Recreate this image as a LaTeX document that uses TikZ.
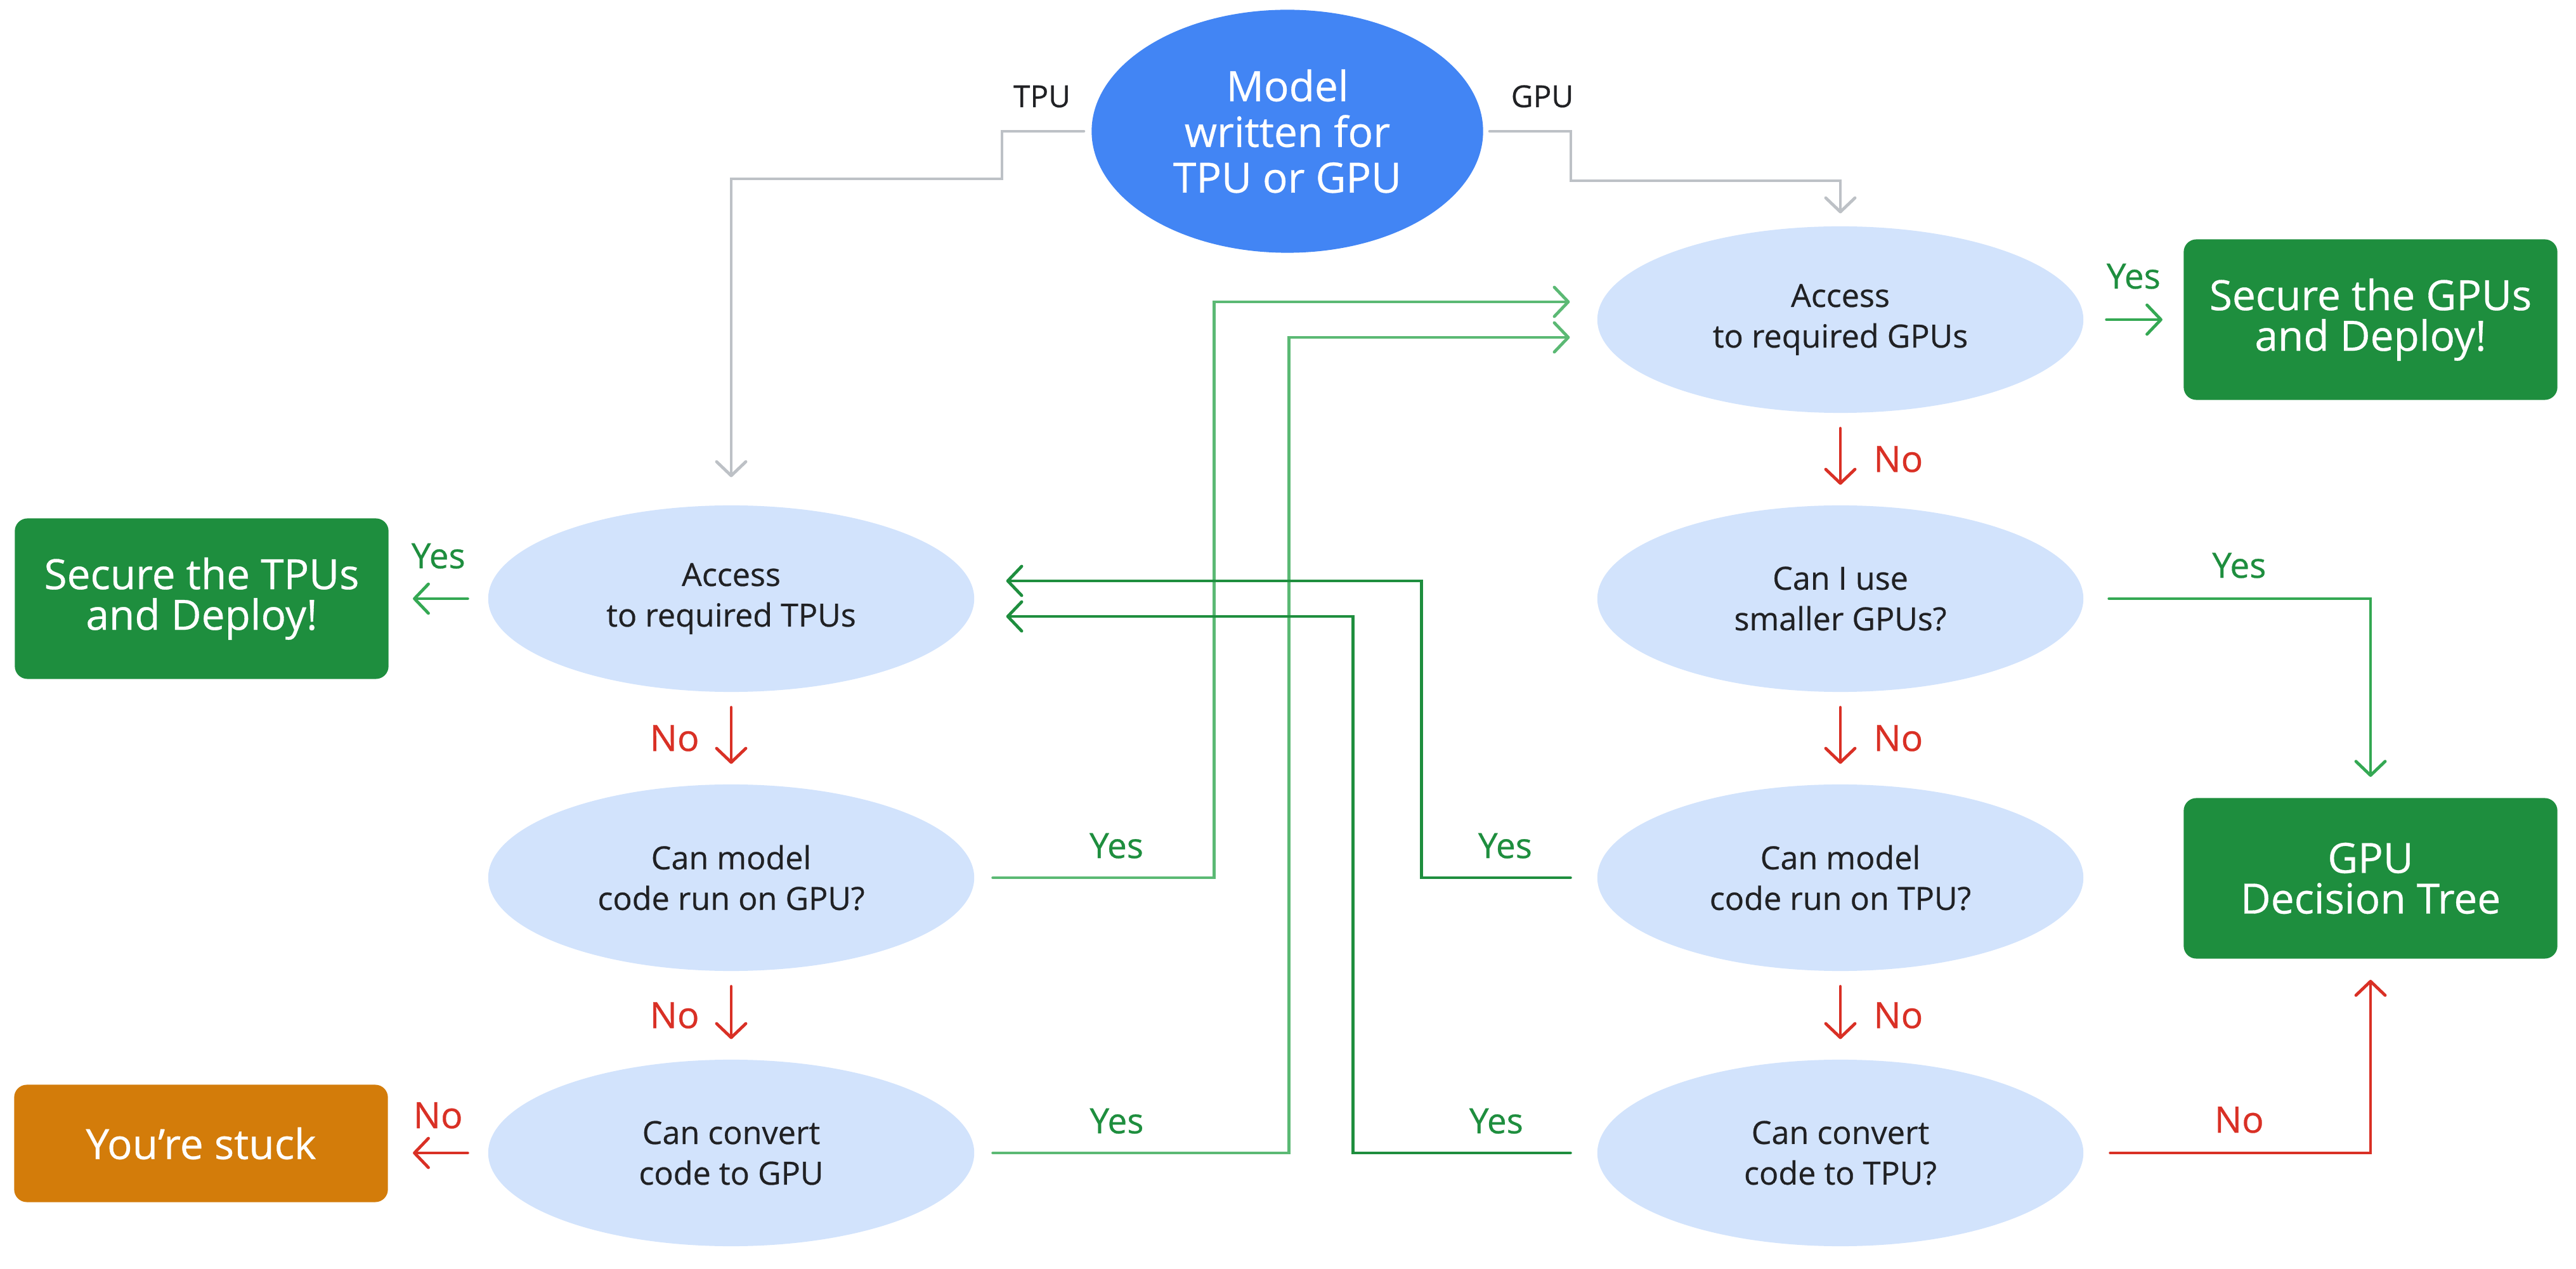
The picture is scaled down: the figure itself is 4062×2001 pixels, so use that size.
\documentclass[tikz,border=0pt]{standalone}
\usepackage{fontspec}
\setmainfont{Open Sans}[FakeBold=0.5]
\usetikzlibrary{arrows.meta,shapes.geometric}

\definecolor{ink}{HTML}{202124}
\definecolor{qfill}{HTML}{D2E3FC}
\definecolor{topblue}{HTML}{4285F4}
\definecolor{okgreen}{HTML}{1E8E3E}
\definecolor{yesgreen}{HTML}{34A853}
\definecolor{lightyes}{HTML}{5BB974}
\definecolor{nored}{HTML}{D93025}
\definecolor{wire}{HTML}{BDC1C6}
\definecolor{stuckorange}{HTML}{D37C0A}

\begin{document}
\begin{tikzpicture}[x=0.01cm,y=-0.01cm,
  >={Straight Barb[length=0.22cm,width=0.46cm,round]},
  line width=0.048cm,line cap=round,
  question/.style={ellipse,fill=qfill,text=ink,minimum width=7.66cm,minimum height=2.94cm,
    inner sep=0pt,align=center,font=\fontsize{14.3}{18.2}\selectfont},
  outcome/.style={rectangle,rounded corners=0.2cm,fill=okgreen,text=white,minimum width=5.89cm,
    minimum height=2.53cm,align=center,font=\fontsize{18.7}{18.2}\selectfont},
  yeslbl/.style={text=okgreen,inner sep=0pt,font=\fontsize{15.6}{18}\selectfont},
  nolbl/.style={text=nored,inner sep=0pt,font=\fontsize{16.3}{18}\selectfont},
  wirelbl/.style={text=ink,inner sep=0pt,anchor=base,font=\fontsize{13.6}{16}\selectfont}]
  \useasboundingbox (0,0) rectangle (4062,2001);

  % start
  \node[ellipse,fill=topblue,text=white,minimum width=6.17cm,minimum height=3.83cm,inner sep=0pt,
    align=center,font=\fontsize{18.7}{20.5}\selectfont] (start) at (2030,207) {Model\\written for\\TPU or GPU};

  % TPU column
  \node[question] (tpuacc) at (1153,944) {Access\\to required TPUs};
  \node[question] (gpurun) at (1153,1384) {Can model\\code run on GPU?};
  \node[question] (gpuconv) at (1153,1818) {Can convert\\code to GPU};
  % GPU column
  \node[question] (gpuacc) at (2902,504) {Access\\to required GPUs};
  \node[question] (smaller) at (2902,944) {Can I use\\smaller GPUs?};
  \node[question] (tpurun) at (2902,1384) {Can model\\code run on TPU?};
  \node[question] (tpuconv) at (2902,1818) {Can convert\\code to TPU?};

  % end states
  \node[outcome] (tpudeploy) at (318,944) {Secure the TPUs\\and Deploy!};
  \node[outcome] (gpudeploy) at (3738,504) {Secure the GPUs\\and Deploy!};
  \node[outcome] (gputree) at (3738,1385) {GPU\\Decision Tree};
  \node[outcome,fill=stuckorange,minimum height=1.85cm] (stuck) at (317,1803) {You’re stuck};

  % which hardware
  \node[wirelbl] (tpulbl) at (1643,169) {TPU};
  \node[wirelbl] (gpulbl) at (2432,169) {GPU};
  \draw[->,wire,shorten >=0.42cm] ([xshift=-0.1cm]start.west) -| (1580,282) -| (tpuacc);
  \draw[->,wire,shorten >=0.18cm] ([xshift=0.08cm]start.east) -| (2477,285) -| (gpuacc);

  % No, go down one box
  \foreach \a/\b/\s/\d in {tpuacc/gpurun/left/0.48cm,gpurun/gpuconv/left/0.48cm,
                           gpuacc/smaller/right/0.5cm,smaller/tpurun/right/0.5cm,tpurun/tpuconv/right/0.5cm}
    \draw[->,nored,shorten <=0.22cm,shorten >=0.3cm] (\a) -- node[midway,\s=\d,nolbl]{No} (\b);

  % short answers to the side
  \draw[->,yesgreen,shorten <=0.3cm,shorten >=0.36cm] (tpuacc.west) --
    node[midway,above=0.45cm,yeslbl]{Yes} (tpuacc.west -| tpudeploy.east);
  \draw[->,yesgreen,shorten <=0.34cm,shorten >=0.31cm] (gpuacc.east) --
    node[midway,above=0.46cm,yeslbl]{Yes} (gpuacc.east -| gpudeploy.west);
  \draw[->,nored,shorten <=0.3cm,shorten >=0.37cm] (gpuconv.west) --
    node[midway,above=0.36cm,nolbl]{No} (gpuconv.west -| stuck.east);

  % Yes, switch to the other column
  \coordinate (gpuinA) at ([yshift=0.28cm]gpuacc.west);
  \coordinate (gpuinB) at ([yshift=-0.28cm]gpuacc.west);
  \coordinate (tpuinA) at ([yshift=0.28cm]tpuacc.east);
  \coordinate (tpuinB) at ([yshift=-0.28cm]tpuacc.east);
  \draw[->,lightyes,shorten <=0.27cm,shorten >=0.41cm] (gpurun.east) --
    node[pos=0.59,above=0.28cm,yeslbl]{Yes} ++(376,0) |- (gpuinA);
  \draw[->,lightyes,shorten <=0.27cm,shorten >=0.41cm] (gpuconv.east) --
    node[pos=0.45,above=0.28cm,yeslbl]{Yes} ++(494,0) |- (gpuinB);
  \draw[->,okgreen,shorten <=0.4cm,shorten >=0.48cm] (tpurun.west) --
    node[pos=0.52,above=0.28cm,yeslbl]{Yes} ++(-275,0) |- (tpuinA);
  \draw[->,okgreen,shorten <=0.4cm,shorten >=0.48cm] (tpuconv.west) --
    node[pos=0.41,above=0.28cm,yeslbl]{Yes} ++(-383,0) |- (tpuinB);

  % into the GPU decision tree
  \draw[->,yesgreen,shorten <=0.38cm,shorten >=0.31cm] (smaller.east) -|
    node[pos=0.27,above=0.3cm,yeslbl]{Yes} (gputree);
  \draw[->,nored,shorten <=0.4cm,shorten >=0.31cm] (tpuconv.east) -|
    node[pos=0.27,above=0.29cm,nolbl]{No} (gputree);
\end{tikzpicture}
\end{document}
